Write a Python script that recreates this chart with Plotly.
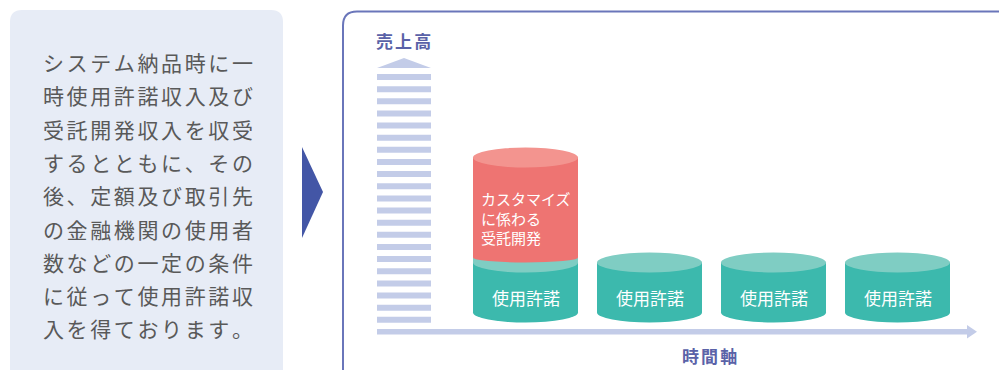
import plotly.graph_objects as go

# ---- data -------------------------------------------------------------
license_revenue = [1.0, 1.0, 1.0, 1.0]      # 使用許諾 (each period)
custom_dev_revenue = [2.0, 0.0, 0.0, 0.0]   # カスタマイズに係わる受託開発
license_label = "使用許諾"
custom_label_lines = ["カスタマイズ", "に係わる", "受託開発"]
y_axis_label = "売上高"
x_axis_label = "時間軸"
description_lines = [
    "システム納品時に一",
    "時使用許諾収入及び",
    "受託開発収入を収受",
    "するとともに、その",
    "後、定額及び取引先",
    "の金融機関の使用者",
    "数などの一定の条件",
    "に従って使用許諾収",
    "入を得ております。",
]

# ---- page geometry (pixels) --------------------------------------------
W, H = 999, 370
FONT = "Noto Sans CJK JP"

# data axes: category i sits at pixel X0 + i*XSTEP, value 0 at pixel Y0
X0, XSTEP = 525.5, 124.0
Y0, YUNIT = 312.5, 50.0
x_range = [(0 - X0) / XSTEP, (W - X0) / XSTEP]
y_range = [(Y0 - H) / YUNIT, Y0 / YUNIT]

BAR_W = 105 / XSTEP          # cylinder width in category units
HW = BAR_W / 2
RY = 10 / YUNIT              # half height of cylinder caps
RY_LOW = 5 / YUNIT           # half height of the stacked cylinder's base
GAP = 0.1                    # lift of the stacked cylinder

TEAL, TEAL_TOP = "#3cb9ad", "#7fcdc3"
RED, RED_TOP = "#ee7472", "#f3948f"
STRIPE = "#c3cce8"
LABEL_BLUE = "#5a62a8"


def px(x):
    return x / W


def py(y):
    return 1 - y / H


def spaced(s, sep="\u200a\u200a"):
    return sep.join(s)


def rounded_rect_path(x0, y0, x1, y1, r):
    pts = [
        f"M {px(x0 + r)},{py(y0)}",
        f"L {px(x1 - r)},{py(y0)}",
        f"Q {px(x1)},{py(y0)} {px(x1)},{py(y0 + r)}",
        f"L {px(x1)},{py(y1 - r)}",
        f"Q {px(x1)},{py(y1)} {px(x1 - r)},{py(y1)}",
        f"L {px(x0 + r)},{py(y1)}",
        f"Q {px(x0)},{py(y1)} {px(x0)},{py(y1 - r)}",
        f"L {px(x0)},{py(y0 + r)}",
        f"Q {px(x0)},{py(y0)} {px(x0 + r)},{py(y0)}",
        "Z",
    ]
    return " ".join(pts)


def poly_path(points):
    p = " L ".join(f"{px(x)},{py(y)}" for x, y in points)
    return f"M {p} Z"


shapes = []
annotations = []

# left description panel
shapes.append(dict(type="path", xref="paper", yref="paper",
                   path=rounded_rect_path(10, 10, 283, 420, 12),
                   fillcolor="#e7ecf6", line=dict(width=0), layer="below"))
for k, line in enumerate(description_lines):
    annotations.append(dict(
        xref="paper", yref="paper", x=px(41), y=py(62 + 33.3 * k),
        xanchor="left", yanchor="middle", showarrow=False,
        text=spaced(line), font=dict(family=FONT, size=21, color="#595959")))

# pointer triangle
shapes.append(dict(type="path", xref="paper", yref="paper",
                   path=poly_path([(302, 147), (323, 192), (302, 238)]),
                   fillcolor="#4356a6", line=dict(width=0), layer="below"))

# right framed panel
shapes.append(dict(type="path", xref="paper", yref="paper",
                   path=rounded_rect_path(343, 11.5, 1020, 420, 14),
                   fillcolor="rgba(0,0,0,0)",
                   line=dict(color="#6a76ba", width=2), layer="below"))

# striped sales axis with arrow head
for k in range(21):
    top = 74 + 12.14 * k
    shapes.append(dict(type="rect", xref="paper", yref="paper",
                       x0=px(377), x1=px(431), y0=py(top), y1=py(top + 6),
                       fillcolor=STRIPE, line=dict(width=0), layer="below"))
shapes.append(dict(type="path", xref="paper", yref="paper",
                   path=poly_path([(377, 68), (404, 58), (431, 68)]),
                   fillcolor=STRIPE, line=dict(width=0), layer="below"))

# time axis with arrow head
shapes.append(dict(type="rect", xref="paper", yref="paper",
                   x0=px(377), x1=px(968), y0=py(329), y1=py(334.5),
                   fillcolor=STRIPE, line=dict(width=0), layer="below"))
shapes.append(dict(type="path", xref="paper", yref="paper",
                   path=poly_path([(967, 325), (977, 331.75), (967, 338.5)]),
                   fillcolor=STRIPE, line=dict(width=0), layer="below"))

annotations.append(dict(xref="paper", yref="paper", x=px(403), y=py(41),
                        xanchor="center", yanchor="middle", showarrow=False,
                        text=spaced(y_axis_label),
                        font=dict(family=FONT, size=17, color=LABEL_BLUE, weight="bold")))
annotations.append(dict(xref="paper", yref="paper", x=px(709), y=py(355),
                        xanchor="center", yanchor="middle", showarrow=False,
                        text=spaced(x_axis_label),
                        font=dict(family=FONT, size=17, color=LABEL_BLUE, weight="bold")))


# cylinders drawn in data coordinates
def ellipse(xc, yc, ry, color):
    return dict(type="circle", xref="x", yref="y",
                x0=xc - HW, x1=xc + HW, y0=yc - ry, y1=yc + ry,
                fillcolor=color, line=dict(width=0), layer="above")


def body(xc, y0, y1, color):
    return dict(type="rect", xref="x", yref="y",
                x0=xc - HW, x1=xc + HW, y0=y0, y1=y1,
                fillcolor=color, line=dict(width=0), layer="above")


for i, (lic, cus) in enumerate(zip(license_revenue, custom_dev_revenue)):
    shapes.append(ellipse(i, 0, RY, TEAL))
    shapes.append(body(i, 0, lic, TEAL))
    shapes.append(ellipse(i, lic, RY, TEAL_TOP))
    annotations.append(dict(xref="x", yref="y", x=i, y=lic / 2 - RY,
                            xanchor="center", yanchor="middle", showarrow=False,
                            text=license_label,
                            font=dict(family=FONT, size=17, color="white")))
    if cus > 0:
        base = lic + GAP
        shapes.append(body(i, lic, base, TEAL_TOP))
        shapes.append(ellipse(i, base, RY_LOW, RED))
        shapes.append(body(i, base, base + cus, RED))
        shapes.append(ellipse(i, base + cus, RY, RED_TOP))
        annotations.append(dict(xref="x", yref="y", x=i - HW, xshift=6,
                                y=base + cus / 2 - RY,
                                xanchor="left", yanchor="middle", align="left",
                                showarrow=False,
                                text="<br>".join(custom_label_lines),
                                font=dict(family=FONT, size=15, color="white")))

fig = go.Figure()
fig.update_layout(
    width=W, height=H,
    margin=dict(l=0, r=0, t=0, b=0),
    paper_bgcolor="white", plot_bgcolor="white",
    showlegend=False,
    xaxis=dict(range=x_range, visible=False, fixedrange=True, domain=[0, 1]),
    yaxis=dict(range=y_range, visible=False, fixedrange=True, domain=[0, 1]),
    shapes=shapes,
    annotations=annotations,
)

fig.write_html("out.html")
